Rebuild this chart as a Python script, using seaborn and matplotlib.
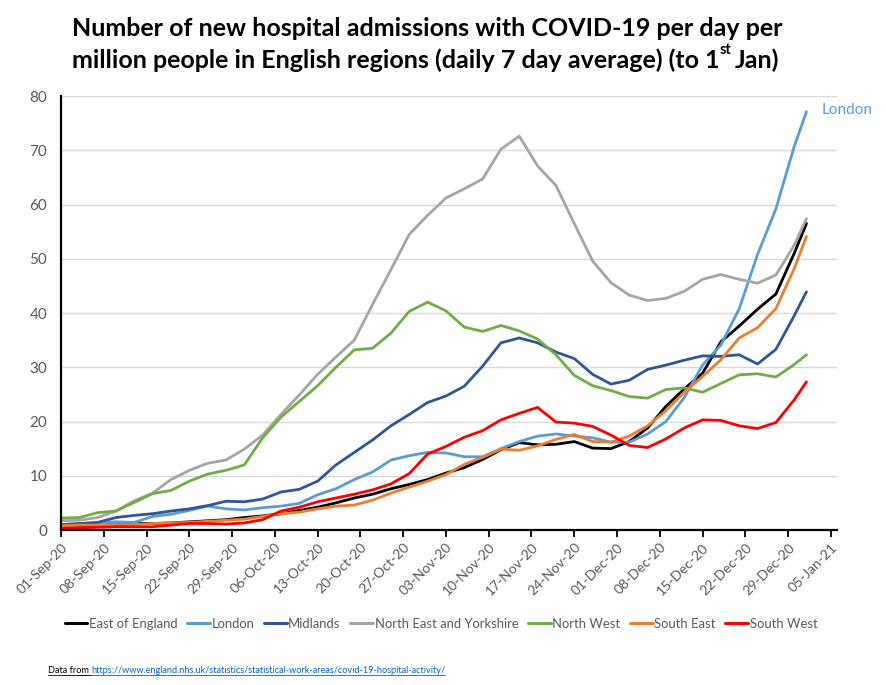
import numpy as np
import pandas as pd
import matplotlib
matplotlib.use("Agg")
import matplotlib.pyplot as plt
import seaborn as sns
from matplotlib import font_manager as fm
from matplotlib.lines import Line2D

# ---------------- data (7-day average admissions per million) ----------------
start_date = "2020-09-01"
day_offsets = [0, 3, 6, 9, 12, 15, 18, 21, 24, 27, 30, 33, 36, 39, 42, 45, 48, 51,
               54, 57, 60, 63, 66, 69, 72, 75, 78, 81, 84, 87, 90, 93, 96, 99, 102,
               105, 108, 111, 114, 117, 120, 122]

east_of_england = [0.7, 0.8, 0.9, 1.0, 1.2, 1.2, 1.3, 1.5, 1.7, 1.9, 2.3, 2.6, 3.0, 3.6,
                   4.2, 5.0, 5.9, 6.6, 7.6, 8.4, 9.3, 10.5, 11.5, 13.0, 14.8, 16.1, 15.7,
                   15.8, 16.3, 15.1, 15.0, 16.3, 18.8, 22.8, 26.0, 28.9, 34.7, 37.6, 40.7,
                   43.5, 51.0, 56.5]
london = [0.6, 0.9, 1.4, 1.5, 1.4, 2.5, 2.9, 3.6, 4.4, 3.9, 3.7, 4.1, 4.4, 4.9, 6.5, 7.6,
          9.3, 10.7, 12.9, 13.7, 14.3, 14.2, 13.5, 13.5, 15.0, 16.3, 17.3, 17.7, 17.3, 17.0,
          16.2, 16.2, 17.7, 20.0, 24.4, 30.4, 34.1, 40.8, 50.8, 59.2, 70.7, 77.1]
midlands = [1.0, 1.2, 1.4, 2.3, 2.7, 3.0, 3.5, 3.9, 4.5, 5.3, 5.2, 5.7, 7.0, 7.5, 9.0, 12.0,
            14.3, 16.6, 19.2, 21.3, 23.5, 24.7, 26.5, 30.2, 34.5, 35.4, 34.5, 32.8, 31.6,
            28.7, 26.9, 27.6, 29.6, 30.4, 31.3, 32.1, 32.0, 32.3, 30.6, 33.3, 39.5, 43.9]
north_east_yorks = [1.7, 1.8, 2.3, 3.5, 5.4, 6.8, 9.3, 11.0, 12.3, 12.9, 14.9, 17.5, 21.3,
                    24.9, 28.7, 31.9, 35.0, 41.6, 48.0, 54.5, 58.0, 61.2, 62.9, 64.7, 70.2,
                    72.6, 67.1, 63.5, 56.5, 49.6, 45.6, 43.3, 42.3, 42.7, 44.0, 46.2, 47.1,
                    46.2, 45.5, 47.0, 52.5, 57.4]
north_west = [2.2, 2.3, 3.2, 3.5, 5.1, 6.7, 7.3, 9.0, 10.3, 11.0, 12.0, 17.0, 20.8, 23.7,
              26.6, 30.0, 33.2, 33.5, 36.3, 40.3, 42.0, 40.4, 37.4, 36.6, 37.7, 36.7, 35.2,
              32.3, 28.5, 26.6, 25.7, 24.6, 24.3, 25.9, 26.2, 25.4, 27.0, 28.6, 28.8, 28.2,
              30.5, 32.3]
south_east = [0.8, 0.9, 0.9, 1.0, 1.0, 1.2, 1.3, 1.4, 1.6, 1.8, 2.0, 2.5, 3.0, 3.3, 3.9,
              4.4, 4.6, 5.5, 6.8, 7.9, 9.0, 10.2, 12.1, 13.4, 14.9, 14.7, 15.5, 16.7, 17.6,
              16.3, 16.2, 17.3, 19.2, 22.0, 25.4, 28.3, 31.4, 35.4, 37.3, 40.8, 48.2, 54.1]
south_west = [0.3, 0.4, 0.5, 0.6, 0.6, 0.6, 0.9, 1.2, 1.2, 1.1, 1.3, 1.9, 3.5, 4.2, 5.2,
              5.9, 6.6, 7.4, 8.5, 10.4, 14.0, 15.4, 17.1, 18.3, 20.3, 21.5, 22.6, 19.9, 19.7,
              19.1, 17.5, 15.6, 15.2, 16.8, 18.8, 20.3, 20.2, 19.2, 18.7, 19.8, 24.0, 27.3]

regions = ["East of England", "London", "Midlands", "North East and Yorkshire",
           "North West", "South East", "South West"]
series = [east_of_england, london, midlands, north_east_yorks, north_west,
          south_east, south_west]
colors = ["#000000", "#5B9BD5", "#2F5597", "#A5A5A5", "#70AD47", "#ED7D31", "#FF0000"]

tick_start, tick_end = "2020-09-01", "2021-01-05"

# ---------------- build table ----------------
dates = pd.Timestamp(start_date) + pd.to_timedelta(day_offsets, unit="D")
df = pd.concat([pd.DataFrame({"date": dates, "value": vals, "region": name})
                for name, vals in zip(regions, series)], ignore_index=True)

# ---------------- fonts ----------------
names = {f.name for f in fm.fontManager.ttflist}
title_font = "Liberation Sans Narrow" if "Liberation Sans Narrow" in names else "Lato"
body_font = "Lato"

sns.set_theme(style="white")
plt.rcParams["font.family"] = [body_font, "DejaVu Sans"]

fig = plt.figure(figsize=(8.87, 6.85), dpi=100)
ax = fig.add_axes([61 / 887, 1 - 530 / 685, (837 - 61) / 887, (530 - 96) / 685])

sns.lineplot(data=df, x="date", y="value", hue="region", hue_order=regions,
             palette=dict(zip(regions, colors)), linewidth=2.0, ax=ax)

ax.set_ylim(0, 80)
ax.set_yticks(np.arange(0, 81, 10))
xticks = pd.date_range(tick_start, tick_end, freq="7D")
ax.set_xlim(pd.Timestamp(tick_start), pd.Timestamp(tick_end) + pd.Timedelta(days=1))
ax.set_xticks(xticks)
ax.set_xticklabels([d.strftime("%d-%b-%y") for d in xticks], rotation=45,
                   ha="right", rotation_mode="anchor")
ax.set_xlabel("")
ax.set_ylabel("")

ax.yaxis.grid(True, color="#D9D9D9", linewidth=1.0)
ax.xaxis.grid(False)
for s in ["top", "right"]:
    ax.spines[s].set_visible(False)
for s in ["left", "bottom"]:
    ax.spines[s].set_color("black")
    ax.spines[s].set_linewidth(1.6)
ax.tick_params(axis="y", length=0, pad=10, labelsize=11, labelcolor="#595959")
ax.tick_params(axis="x", direction="out", length=5, width=1.3, color="black",
               bottom=True, pad=3, labelsize=10, labelcolor="#595959")

# legend
sns.move_legend(ax, "center", bbox_to_anchor=(441 / 887, 1 - 624 / 685),
                bbox_transform=fig.transFigure, ncol=7, frameon=False, title=None,
                handlelength=1.75, handletextpad=0.1, columnspacing=0.75, fontsize=9.4)
for t in ax.get_legend().get_texts():
    t.set_color("#595959")
for h in ax.get_legend().legend_handles:
    h.set_linewidth(2.2)

# London label
ax.annotate("London", xy=(dates[-1], london[-1]), xytext=(11, 1),
            textcoords="offset points", color="#5B9BD5", fontsize=11,
            va="center", ha="left", annotation_clip=False)

# ---------------- title ----------------
fig.canvas.draw()
renderer = fig.canvas.get_renderer()
tsize = 18
tx = 72 / 887
l1 = fig.text(tx, 1 - 28 / 685, "Number of new hospital admissions with COVID-19 per day per",
              fontsize=tsize, fontweight="bold", family=[title_font, "DejaVu Sans"],
              va="center", ha="left", color="black")
l2a = fig.text(tx, 1 - 60 / 685, "million people in English regions (daily 7 day average) (to 1",
               fontsize=tsize, fontweight="bold", family=[title_font, "DejaVu Sans"],
               va="center", ha="left", color="black")
fig.canvas.draw()
bb = l2a.get_window_extent(renderer)
sup = fig.text(bb.x1 / fig.bbox.width, (bb.y0 + bb.height * 0.62) / fig.bbox.height, "st",
               fontsize=tsize * 0.58, fontweight="bold", family=[title_font, "DejaVu Sans"],
               va="bottom", ha="left", color="black")
fig.canvas.draw()
bs = sup.get_window_extent(renderer)
fig.text(bs.x1 / fig.bbox.width + 3 / 887, 1 - 60 / 685, "Jan)", fontsize=tsize,
         fontweight="bold", family=[title_font, "DejaVu Sans"], va="center", ha="left",
         color="black")

# ---------------- footer ----------------
f1 = fig.text(48 / 887, 1 - 673 / 685, "Data from ", fontsize=6.6, color="black",
              va="baseline", ha="left")
fig.canvas.draw()
b1 = f1.get_window_extent(renderer)
f2 = fig.text(b1.x1 / fig.bbox.width,
              1 - 673 / 685,
              "https://www.england.nhs.uk/statistics/statistical-work-areas/covid-19-hospital-activity/",
              fontsize=6.6, color="#0563C1", va="baseline", ha="left")
fig.canvas.draw()
b2 = f2.get_window_extent(renderer)
uy = 1 - 675 / 685
fig.add_artist(Line2D([b1.x0 / fig.bbox.width, b1.x1 / fig.bbox.width], [uy, uy],
                      color="black", linewidth=0.6, transform=fig.transFigure))
fig.add_artist(Line2D([b2.x0 / fig.bbox.width, b2.x1 / fig.bbox.width], [uy, uy],
                      color="#0563C1", linewidth=0.6, transform=fig.transFigure))

fig.savefig("out.png", dpi=100)
